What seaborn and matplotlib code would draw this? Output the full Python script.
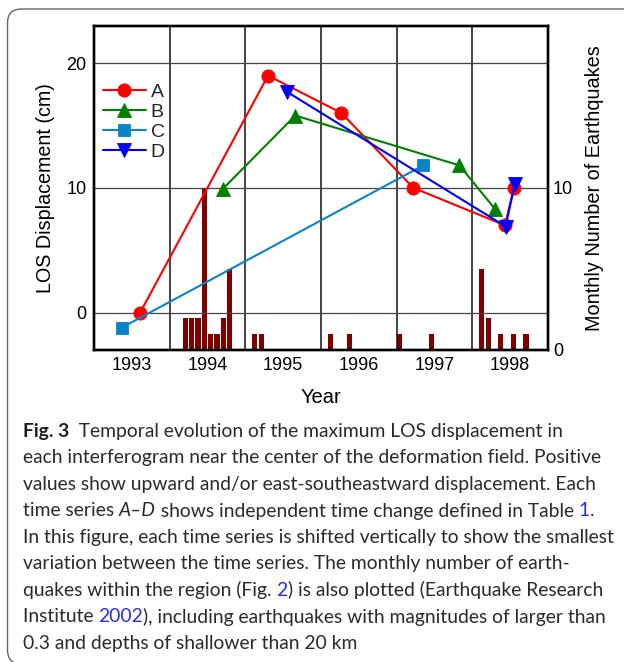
import numpy as np
import pandas as pd
import matplotlib
matplotlib.use("Agg")
import matplotlib.pyplot as plt
import seaborn as sns
from matplotlib.patches import FancyBboxPatch
from matplotlib.transforms import IdentityTransform

# ---------------- data ----------------
years_A = [1993.61, 1995.30, 1996.27, 1997.22, 1998.43, 1998.55]
disp_A = [0.0, 19.0, 16.0, 10.0, 7.0, 10.0]
years_B = [1994.70, 1995.66, 1997.83, 1998.30]
disp_B = [9.9, 15.8, 11.8, 8.3]
years_C = [1993.37, 1997.35]
disp_C = [-1.2, 11.8]
years_D = [1995.55, 1998.44, 1998.56]
disp_D = [17.7, 6.9, 10.3]

eq_year = [1994] * 8 + [1995] * 2 + [1996] * 2 + [1997] * 2 + [1998] * 5
eq_month = [3, 4, 5, 6, 7, 8, 9, 10, 2, 3, 2, 5, 1, 6, 2, 3, 5, 7, 9]
eq_count = [2, 2, 2, 10, 1, 1, 2, 5, 1, 1, 1, 1, 1, 1, 5, 2, 1, 1, 1]

year_labels = ["1993", "1994", "1995", "1996", "1997", "1998"]
left_ticks = [0, 10, 20]
right_ticks = [0, 10]
series_names = ["A", "B", "C", "D"]

caption_lines = [
    [("Fig. 3", "bold"), ("  Temporal evolution of the maximum LOS displacement in", "normal")],
    [("each interferogram near the center of the deformation field. Positive", "normal")],
    [("values show upward and/or east-southeastward displacement. Each", "normal")],
    [("time series ", "normal"), ("A\u2013D", "italic"),
     (" shows independent time change defined in Table ", "normal"), ("1", "link"), (".", "normal")],
    [("In this figure, each time series is shifted vertically to show the smallest", "normal")],
    [("variation between the time series. The monthly number of earth-", "normal")],
    [("quakes within the region (Fig. ", "normal"), ("2", "link"),
     (") is also plotted (Earthquake Research", "normal")],
    [("Institute ", "normal"), ("2002", "link"),
     ("), including earthquakes with magnitudes of larger than", "normal")],
    [("0.3 and depths of shallower than 20 km", "normal")],
]

# ---------------- figure ----------------
sns.set_theme(style="white")
plt.rcParams["font.family"] = ["Liberation Sans", "DejaVu Sans"]

W, H = 624, 662
fig = plt.figure(figsize=(W / 100, H / 100), dpi=100)
fig.patch.set_facecolor("white")

ax = fig.add_axes([94 / W, 1 - 350 / H, (548 - 94) / W, (350 - 25.7) / H])
ax2 = ax.twinx()

# earthquake bars (right axis)
eq_df = pd.DataFrame({
    "t": [y + (m - 0.5) / 12 for y, m in zip(eq_year, eq_month)],
    "n": eq_count,
})
sns.histplot(data=eq_df, x="t", weights="n", binwidth=1 / 12, binrange=(1993, 1999),
             shrink=0.82, color="#800000", alpha=1, linewidth=0, ax=ax2)
ax2.set_ylim(0, 20)
ax2.set_yticks(right_ticks)
ax2.set_yticklabels([str(t) for t in right_ticks])
ax2.grid(False)
ax2.set_ylabel("Monthly Number of Earthquakes", fontsize=14.3, labelpad=8.5, color="black")
ax2.tick_params(axis="y", length=0, pad=3.5, labelsize=13, colors="black")

ax.set_zorder(ax2.get_zorder() + 1)
ax.patch.set_visible(False)

# displacement series (left axis)
styles = [
    (years_A, disp_A, "#ff0000", "o", 9.5),
    (years_B, disp_B, "#008000", "^", 10),
    (years_C, disp_C, "#0a84c6", "s", 8),
    (years_D, disp_D, "#0000ff", "v", 10),
]
for name, (xs, ys, col, mk, ms) in zip(series_names, styles):
    sns.lineplot(x=xs, y=ys, ax=ax, color=col, marker=mk, markersize=ms,
                 markeredgecolor=col, markeredgewidth=0.6, linewidth=1.5,
                 label=name, estimator=None, sort=False)

ax.set_xlim(1993, 1999)
ax.set_ylim(-3, 23)
ax.set_yticks(left_ticks)
ax.set_yticklabels([str(t) for t in left_ticks])
ax.set_xticks(list(range(1994, 1999)))
ax.set_xticklabels([])
ax.set_xticks([1993.5 + i for i in range(len(year_labels))], minor=True)
ax.set_xticklabels(year_labels, minor=True)
ax.tick_params(axis="both", which="both", length=0, labelsize=13, colors="black")
ax.tick_params(axis="x", which="minor", pad=5)
ax.tick_params(axis="y", pad=5.5)
ax2.set_xlim(1993, 1999)

ax.xaxis.grid(True, which="major", color="#111111", linewidth=1.1)
ax.xaxis.grid(False, which="minor")
ax.yaxis.grid(True, color="#444444", linewidth=0.9)

for a in (ax, ax2):
    for sp in a.spines.values():
        sp.set_color("black")
        sp.set_linewidth(1.7)

ax.set_xlabel("Year", fontsize=14.5, labelpad=10, color="black")
ax.set_ylabel("LOS Displacement (cm)", fontsize=14.2, labelpad=8, color="black")

ax.legend(loc="upper left", bbox_to_anchor=(0.02, 0.822), frameon=False,
          fontsize=14, handlelength=2.2, handletextpad=0.25, labelspacing=0.12,
          borderpad=0, borderaxespad=0)

# ---------------- border and caption ----------------
border = FancyBboxPatch((7.5, -2.0), 720, 653 + 2.0,
                        boxstyle="round,pad=0,rounding_size=14",
                        transform=IdentityTransform(), facecolor="none",
                        edgecolor="#666666", linewidth=1.0)
fig.add_artist(border)

fig.canvas.draw()
renderer = fig.canvas.get_renderer()

style_kw = {
    "normal": dict(family=["Lato", "DejaVu Sans"], color="#2a2a2a"),
    "bold": dict(family=["Lato", "DejaVu Sans"], color="#231f20", weight="bold"),
    "italic": dict(family=["Lato", "DejaVu Sans"], color="#2a2a2a", style="italic"),
    "link": dict(family=["Lato", "DejaVu Sans"], color="#2b2bf0"),
}


def text_width(s, size, kw):
    t1 = fig.text(0, 0, "|" + s + "|", size=size, **kw)
    w1 = t1.get_window_extent(renderer).width
    t1.remove()
    t2 = fig.text(0, 0, "||", size=size, **kw)
    w2 = t2.get_window_extent(renderer).width
    t2.remove()
    return w1 - w2


ref_line = "".join(p[0] for p in caption_lines[4])
base_size = 13.5
wref = text_width(ref_line, base_size, style_kw["normal"])
cap_size = max(11.0, min(15.0, base_size * 593 / wref))

x0 = 23.0
for i, line in enumerate(caption_lines):
    baseline = 437 + 26.5 * i
    x = x0
    for txt, st in line:
        kw = style_kw[st]
        fig.text(x / W, 1 - baseline / H, txt, size=cap_size, va="baseline", ha="left", **kw)
        x += text_width(txt, cap_size, kw)

fig.savefig("out.png", dpi=100)
